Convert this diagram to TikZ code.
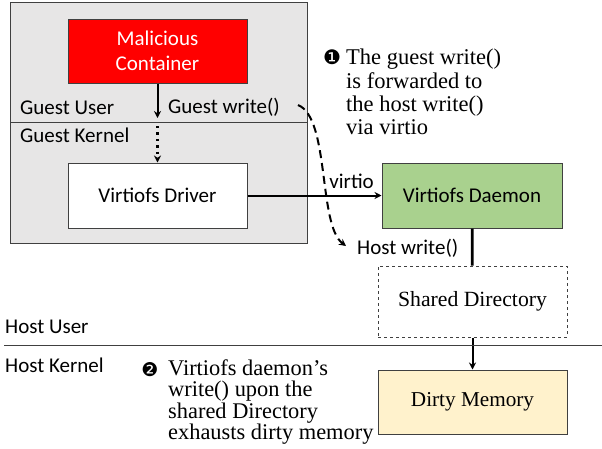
\documentclass[tikz,border=0pt]{standalone}
\usepackage{fontspec}
\setmainfont{Liberation Serif}
\setsansfont{Carlito}
\newfontfamily\dingfont{DejaVu Sans}
\usetikzlibrary{arrows.meta}
\definecolor{guestgray}{HTML}{E7E6E6}
\definecolor{daemongreen}{HTML}{A9D18E}
\definecolor{memyellow}{HTML}{FFF2CC}
\definecolor{edgegray}{HTML}{404040}
\tikzset{
	box/.style={draw=edgegray, line width=1pt, minimum width=179pt, minimum height=64pt, inner sep=0pt, align=center},
	sanstext/.style={font=\sffamily\fontsize{21}{25}\selectfont, inner sep=0pt},
	seriftext/.style={font=\rmfamily\fontsize{22.4}{21.3}\selectfont, inner sep=0pt, align=left},
	flow/.style={-{Stealth[length=7pt,width=7pt]}, line width=2pt},
}

\begin{document}
\begin{tikzpicture}[x=1pt,y=-1pt]
			%%%%% START %%%%%
			\useasboundingbox (0,0) rectangle (602,448);
			
			% guest VM
			\draw[fill=guestgray, draw=edgegray, line width=1pt] (10,2) rectangle (307,243);
			\draw[edgegray, line width=1pt] (10,122) -- (307,122);
			\node[sanstext, anchor=west] (guestuser) at (20,108) {Guest User};
			\node[sanstext, anchor=west] (guestkernel) at (20,135) {Guest Kernel};
			
			\node[box, fill=red, text=white, font=\sffamily\fontsize{21}{25.5}\selectfont] (mal) at (157.5,51) {Malicious\\Container};
			\node[box, fill=white, minimum height=65pt, font=\sffamily\fontsize{21}{25}\selectfont] (drv) at (157.5,195.5) {Virtiofs Driver};
			
			\coordinate (gu) at (157.5,118);
			\coordinate (gk) at (157.5,126);
			\draw[flow] (mal) -- (gu);
			\draw[flow, line width=2.4pt, dash pattern=on 2.4pt off 4pt] (gk) -- (drv);
			\node[sanstext, anchor=west] (guestwrite) at (168,107) {Guest write()};
			
			% host side
			\node[box, fill=daemongreen, minimum width=180pt, minimum height=65pt, font=\sffamily\fontsize{21}{25}\selectfont] (dmn) at (472,195.5) {Virtiofs Daemon};
			\node[box, fill=white, dashed, minimum width=189pt, minimum height=71pt, font=\rmfamily\fontsize{21.7}{25}\selectfont] (shd) at (472.5,301.5) {Shared Directory};
			\node[box, fill=memyellow, minimum width=189pt, minimum height=64pt, font=\rmfamily\fontsize{21.2}{25}\selectfont] (mem) at (472.5,402) {Dirty Memory};
			
			\draw[flow] (drv) -- (dmn);
			\node[sanstext, anchor=south east] (virtio) at (374,189) {virtio};
			\draw[line width=2.8pt] (dmn) -- (shd);
			\draw[flow] (shd) -- (mem);
			
			% forwarded write
			\coordinate (fwdstart) at (298,105);
			\coordinate (fwdend) at (346,246);
			\draw[-{Stealth[length=7pt,width=7pt]}, line width=2pt, dash pattern=on 8pt off 5pt] (fwdstart) .. controls (330,118) and (318,225) .. (fwdend);
			\node[sanstext, anchor=west] (hostwrite) at (357,248) {Host write()};
			
			% host user / kernel
			\draw[edgegray, line width=1pt] (4,345) -- (602,345);
			\node[sanstext, anchor=west] (hostuser) at (5,327) {Host User};
			\node[sanstext, anchor=west] (hostkernel) at (5,365) {Host Kernel};
			
			% notes
			\node[seriftext, font=\rmfamily\fontsize{22.5}{23.3}\selectfont, anchor=west] (note1) at (346,92) {The guest write()\\is forwarded to\\the host write()\\via virtio};
			\node[font=\dingfont\fontsize{20}{24}\selectfont, inner sep=0pt] (num1) at (332,57) {❶};
			\node[seriftext, anchor=west] (note2) at (168,402) {Virtiofs daemon’s\\write() upon the\\shared Directory\\exhausts dirty memory};
			\node[font=\dingfont\fontsize{19}{22}\selectfont, inner sep=0pt] (num2) at (150,370) {❷};
			%%%%% END %%%%%
\end{tikzpicture}
\end{document}
